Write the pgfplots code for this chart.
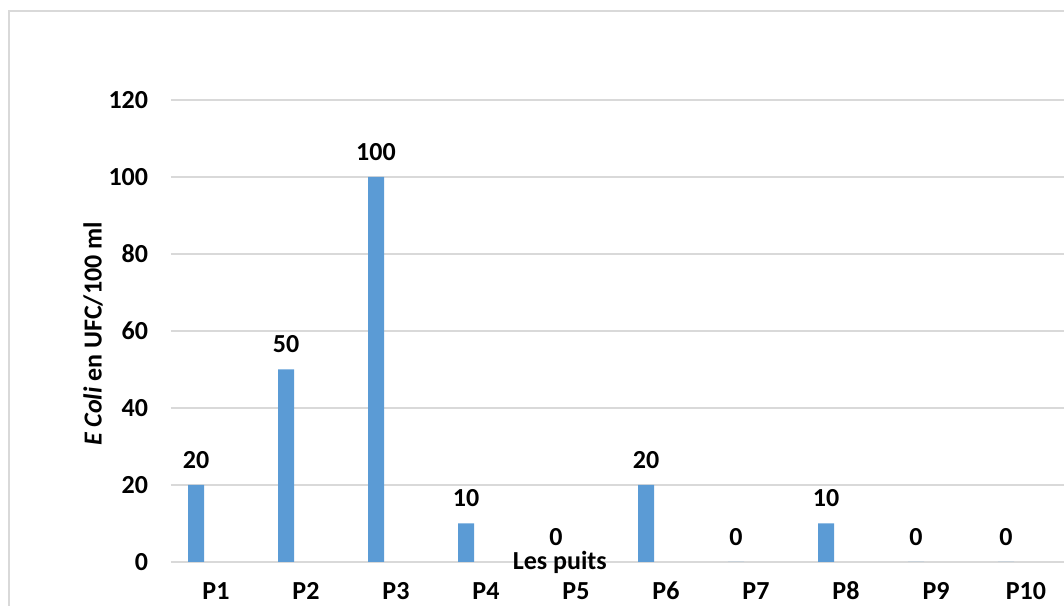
\documentclass[border=0pt]{standalone}
\usepackage{fontspec}
\setmainfont{Carlito}
\usepackage{pgfplots}
\pgfplotsset{compat=1.18}
\definecolor{barblue}{HTML}{5B9BD5}
\definecolor{gridgray}{HTML}{D9D9D9}
\begin{document}
\begin{tikzpicture}
\clip (0,0) rectangle (798pt,454.5pt);
% chart frame
\draw[gridgray, line width=1.1pt] (6.75pt,-20pt) rectangle (820pt,446.25pt);
\begin{axis}[
  at={(128.25pt,33pt)}, anchor=south west,
  scale only axis, width=675pt, height=346.5pt,
  font=\fontsize{19.5}{23}\selectfont\bfseries,
  /pgf/number format/assume math mode=true,
  ybar, bar width=12pt, bar shift=-15pt,
  xmin=0.5, xmax=10.5, ymin=0, ymax=120,
  ytick={0,20,...,120},
  xtick={1,...,10},
  xticklabels={P1,P2,P3,P4,P5,P6,P7,P8,P9,P10},
  axis line style={draw=none},
  tick style={draw=none},
  ymajorgrids, grid style={gridgray, line width=0.9pt},
  xticklabel style={anchor=base, inner sep=0pt, yshift=-24pt},
  yticklabel style={anchor=east, inner sep=0pt, xshift=-17pt},
  xlabel={Les puits},
  xlabel style={at={(axis description cs:0.432,-0.002)}, anchor=center},
  ylabel={\textit{E Coli} en UFC/100 ml},
  ylabel style={at={(axis description cs:-0.0867,0.4935)}, anchor=center, rotate=0},
  nodes near coords,
  nodes near coords style={anchor=center, yshift=18.75pt, inner sep=0pt, text=black},
]
\addplot[fill=barblue, draw=none] coordinates {
  (1,20) (2,50) (3,100) (4,10) (5,0) (6,20) (7,0) (8,10) (9,0) (10,0)
};
\end{axis}
\end{tikzpicture}
\end{document}
